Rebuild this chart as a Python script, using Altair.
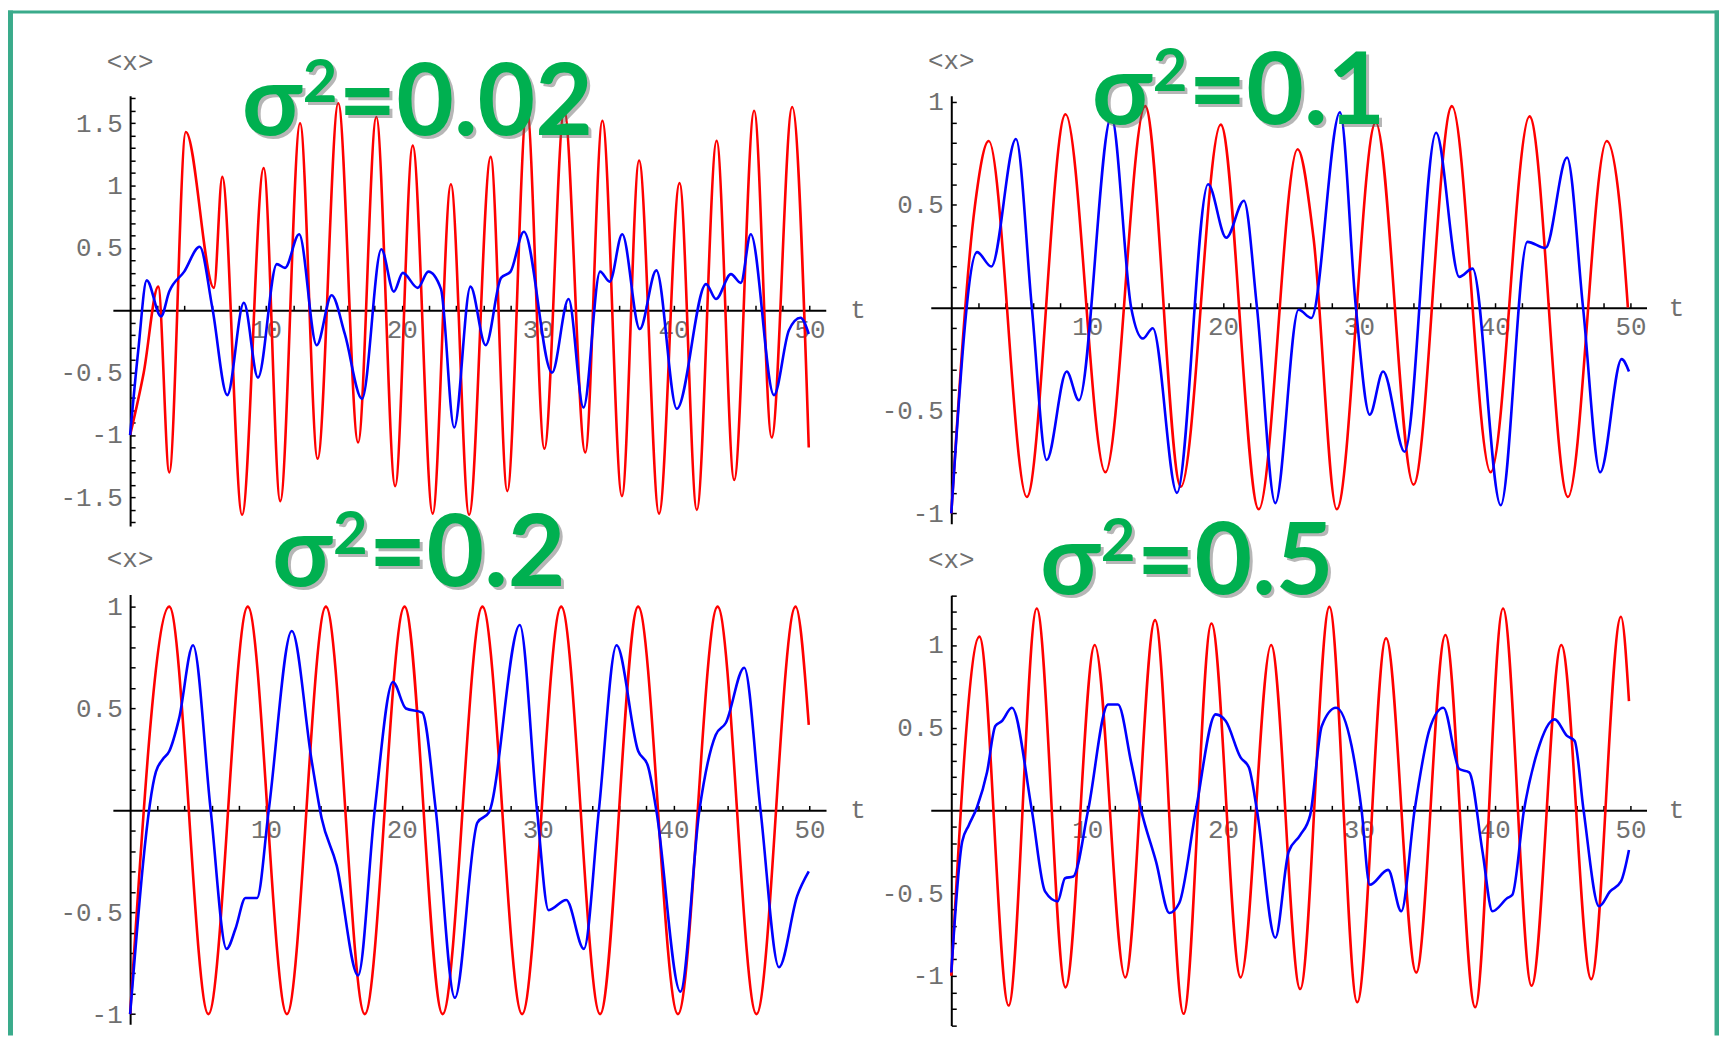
import altair as alt
import pandas as pd

W, H = 1719, 1030   # chart size (page pixels minus the 8px margin)
M = 8

# ---------------- values: (t, <x>) ----------------
tl_red = [(0, -1.0), (1.0, -0.5), (2.07, 0.19), (2.88, -1.30), (4.10, 1.43), (6.17, 0.18), (6.78, 1.07),
          (8.24, -1.64), (9.83, 1.14), (11.05, -1.53), (12.51, 1.50), (13.80, -1.19), (15.32, 1.66),
          (16.78, -1.06), (18.12, 1.55), (19.51, -1.41), (20.80, 1.32), (22.27, -1.63), (23.61, 1.01),
          (24.95, -1.64), (26.54, 1.23), (27.76, -1.45), (29.2, 1.62), (30.49, -1.11), (31.95, 1.60),
          (33.5, -1.14), (34.76, 1.52), (36.2, -1.49), (37.46, 1.20), (38.93, -1.63), (40.44, 1.02),
          (41.71, -1.60), (43.17, 1.36), (44.46, -1.36), (45.93, 1.60), (47.22, -1.02), (48.73, 1.63),
          (49.95, -1.10)]
tl_blue = [(0, -1.0), (0.6, -0.32), (1.22, 0.24), (2.27, -0.05), (2.88, 0.15), (3.98, 0.31), (5.12, 0.51),
           (6.05, 0.02), (7.15, -0.68), (8.37, 0.06), (9.41, -0.54), (10.8, 0.37), (11.4, 0.34),
           (12.44, 0.61), (13.73, -0.28), (14.83, 0.12), (15.8, -0.19), (17.07, -0.71), (18.49, 0.49),
           (19.41, 0.15), (20.07, 0.30), (21.17, 0.18), (21.95, 0.31), (22.88, 0.17), (23.85, -0.94),
           (25.05, 0.19), (26.17, -0.28), (27.3, 0.26), (28.0, 0.31), (28.98, 0.63), (31.05, -0.50),
           (32.27, 0.09), (33.37, -0.78), (34.59, 0.31), (35.3, 0.23), (36.22, 0.61), (37.51, -0.15),
           (38.73, 0.32), (40.24, -0.79), (42.39, 0.21), (43.12, 0.09), (44.22, 0.29), (44.95, 0.22),
           (45.68, 0.61), (47.39, -0.68), (48.49, -0.16), (49.34, -0.06), (49.95, -0.19)]

tr_red = [(0, -1.0), (1.73, 0.49), (2.76, 0.81), (5.56, -0.92), (8.41, 0.94), (11.34, -0.80), (14.27, 0.98),
          (16.9, -0.87), (19.83, 0.89), (22.63, -0.98), (25.49, 0.77), (26.66, 0.34), (28.37, -0.98),
          (31.24, 0.90), (34.02, -0.86), (36.85, 0.98), (39.7, -0.80), (42.56, 0.93), (45.39, -0.92),
          (48.24, 0.81), (49.2, 0.50), (49.8, 0.0)]
tr_blue = [(0, -1.0), (1.9, 0.27), (2.95, 0.20), (4.76, 0.82), (5.93, 0.0), (7.02, -0.74), (8.49, -0.31),
           (9.39, -0.45), (11.78, 0.93), (13.24, 0.0), (14.1, -0.15), (14.83, -0.10), (16.61, -0.90),
           (18.9, 0.60), (20.24, 0.34), (21.54, 0.52), (22.5, 0.0), (23.85, -0.95), (25.56, -0.01),
           (26.5, -0.05), (28.61, 0.95), (29.78, 0.0), (30.8, -0.52), (31.78, -0.31), (33.37, -0.70),
           (35.68, 0.85), (37.39, 0.15), (38.37, 0.19), (40.44, -0.96), (42.4, 0.32), (43.73, 0.29),
           (45.32, 0.73), (46.5, 0.0), (47.76, -0.80), (49.34, -0.25), (49.88, -0.31)]

bl_red = [(0, -1.0), (2.88, 1.0), (5.76, -1.0), (8.66, 1.0), (11.54, -1.0), (14.41, 1.0), (17.27, -1.0),
          (20.2, 1.0), (23.0, -1.0), (25.93, 1.0), (28.85, -1.0), (31.73, 1.0), (34.59, -1.0), (37.39, 1.0),
          (40.32, -1.0), (43.24, 1.0), (46.1, -1.0), (48.98, 1.0), (49.95, 0.42)]
bl_blue = [(0, -1.0), (1.9, 0.19), (2.39, 0.25), (2.88, 0.29), (3.6, 0.45), (4.63, 0.81), (5.93, 0.0),
           (7.1, -0.68), (7.76, -0.58), (8.49, -0.43), (9.34, -0.43), (10.2, 0.0), (11.9, 0.88),
           (13.37, 0.24), (14.1, -0.04), (15.2, -0.27), (16.78, -0.81), (18.0, 0.0), (19.34, 0.63),
           (20.3, 0.50), (21.5, 0.48), (22.5, 0.0), (23.9, -0.92), (25.56, -0.06), (26.41, -0.01),
           (28.68, 0.91), (29.95, 0.0), (30.8, -0.49), (32.1, -0.44), (33.4, -0.68), (34.5, 0.0),
           (35.8, 0.81), (37.4, 0.29), (38.1, 0.22), (38.73, 0.0), (40.5, -0.89), (41.9, 0.0), (43.1, 0.37),
           (43.85, 0.43), (45.2, 0.70), (46.4, 0.0), (47.76, -0.77), (49.1, -0.42), (49.95, -0.30)]

br_red = [(0, -1.0), (2.07, 1.05), (4.22, -1.18), (6.29, 1.22), (8.41, -1.07), (10.56, 1.0), (12.8, -1.01),
          (15.0, 1.15), (17.1, -1.23), (19.15, 1.13), (21.3, -1.01), (23.54, 1.0), (25.68, -1.08),
          (27.83, 1.23), (29.88, -1.16), (32.0, 1.04), (34.22, -0.98), (36.37, 1.06), (38.56, -1.19),
          (40.61, 1.22), (42.71, -1.06), (44.9, 1.0), (47.1, -1.02), (49.29, 1.17), (49.88, 0.66)]
br_blue = [(0, -0.98), (0.8, -0.19), (1.29, -0.09), (1.9, 0.02), (2.63, 0.23), (3.24, 0.51), (3.73, 0.54),
           (4.46, 0.62), (5.93, 0.0), (6.9, -0.49), (7.83, -0.55), (8.37, -0.41), (8.98, -0.40),
           (10.07, 0.0), (11.54, 0.64), (12.27, 0.64), (13.24, 0.29), (13.98, 0.0), (15.07, -0.31),
           (16.05, -0.62), (16.78, -0.56), (18.0, 0.0), (19.46, 0.58), (20.2, 0.54), (21.29, 0.32),
           (21.9, 0.26), (22.5, 0.0), (23.85, -0.77), (24.83, -0.25), (25.68, -0.15), (26.41, -0.03),
           (27.27, 0.51), (28.32, 0.62), (29.46, 0.39), (30.2, 0.0), (30.8, -0.45), (32.15, -0.36),
           (33.12, -0.61), (34.1, 0.0), (35.2, 0.49), (36.22, 0.62), (37.39, 0.25), (38.12, 0.23),
           (39.1, -0.25), (39.83, -0.61), (40.93, -0.53), (41.3, -0.51), (42.15, 0.0), (43.12, 0.35),
           (44.41, 0.55), (45.32, 0.45), (45.88, 0.42), (46.54, 0.0), (47.68, -0.58), (48.49, -0.49),
           (49.29, -0.43), (49.88, -0.24)]

# tick values and labels
x_ticks = [2, 4, 6, 8, 10, 12, 14, 16, 18, 20, 22, 24, 26, 28, 30, 32, 34, 36, 38, 40, 42, 44, 46, 48, 50]
tl_y_ticks = [round(k / 10, 1) for k in range(-17, 18) if k != 0]
tr_y_ticks = [round(k / 10, 1) for k in range(-10, 11) if k != 0]
bl_y_ticks = tr_y_ticks
br_y_ticks = [round(k / 10, 1) for k in range(-13, 14) if k != 0]
title_base = "σ"
title_sup = "2"
title_rest = ["=0.02", "=0.1", "=0.2", "=0.5"]
y_title = "<x>"
x_title = "t"

# ---------------- layout (page pixels) ----------------
panels = [
    dict(red=tl_red, blue=tl_blue, yt=tl_y_ticks, x0=130.7, y0=309.3, sx=13.65, sy=125.3,
         tdom=[-1.27, 51.2], vdom=[-1.73, 1.72], rest=title_rest[0], title_at=(8.23, 1.405),
         ylab_at=(0, 1.99), xlab_at=(53.0, 0)),
    dict(red=tr_red, blue=tr_blue, yt=tr_y_ticks, x0=955.7, y0=306.7, sx=13.65, sy=206.7,
         tdom=[-1.51, 51.17], vdom=[-1.05, 1.03], rest=title_rest[1], title_at=(10.35, 0.895),
         ylab_at=(0, 1.20), xlab_at=(52.8, 0)),
    dict(red=bl_red, blue=bl_blue, yt=bl_y_ticks, x0=130.7, y0=811.7, sx=13.65, sy=204.7,
         tdom=[-1.27, 51.22], vdom=[-1.05, 1.06], rest=title_rest[2], title_at=(10.46, 1.099),
         ylab_at=(0, 1.233), xlab_at=(53.0, 0)),
    dict(red=br_red, blue=br_blue, yt=br_y_ticks, x0=955.7, y0=811.7, sx=13.65, sy=166.2,
         tdom=[-1.51, 51.17], vdom=[-1.30, 1.30], rest=title_rest[3], title_at=(6.54, 1.31),
         ylab_at=(0, 1.514), xlab_at=(52.8, 0)),
]

MONO = "Liberation Mono, Courier New, monospace"
SANS = "Lato, Open Sans, sans-serif"
LABEL_COLOR = "#707070"
FS = 26
TICK = 5
LW = 2.6

layers = []

# slide frame
one = pd.DataFrame({"a": [0]})
TEAL = "#3aab8b"
layers.append(alt.Chart(one).mark_rect(color=TEAL).encode(
    x=alt.value(0), x2=alt.value(5), y=alt.value(0), y2=alt.value(H)))
layers.append(alt.Chart(one).mark_rect(color=TEAL).encode(
    x=alt.value(W - 4.5), x2=alt.value(W), y=alt.value(0), y2=alt.value(H)))
layers.append(alt.Chart(one).mark_rect(color=TEAL).encode(
    x=alt.value(0), x2=alt.value(W), y=alt.value(0), y2=alt.value(3)))

for p in panels:
    xr = [p["x0"] + p["sx"] * p["tdom"][0] - M, p["x0"] + p["sx"] * p["tdom"][1] - M]
    yr = [p["y0"] - p["sy"] * p["vdom"][0] - M, p["y0"] - p["sy"] * p["vdom"][1] - M]

    def xs():
        return alt.Scale(domain=p["tdom"], range=xr, nice=False, zero=False)

    def ys():
        return alt.Scale(domain=p["vdom"], range=yr, nice=False, zero=False)

    def enc(ch):
        return ch.encode(x=alt.X("t:Q", scale=xs(), axis=None),
                         y=alt.Y("v:Q", scale=ys(), axis=None), text="s:N")

    xaxis = alt.Axis(orient="top", offset=-(p["y0"] - M), values=x_ticks, title=None, grid=False,
                     tickSize=TICK, tickColor="black", tickWidth=1.5,
                     domainColor="black", domainWidth=2,
                     labelExpr="datum.value % 10 === 0 ? '' + datum.value : ''",
                     labelPadding=-(19 + TICK), labelBaseline="middle", labelAlign="center",
                     labelFont=MONO, labelFontSize=FS, labelColor=LABEL_COLOR,
                     labelFlush=False, labelOverlap=False)
    yaxis = alt.Axis(orient="right", offset=(p["x0"] - M) - W, values=p["yt"], title=None, grid=False,
                     tickSize=TICK, tickColor="black", tickWidth=1.5,
                     domainColor="black", domainWidth=2,
                     labelExpr="abs(datum.value) > 0.001 && abs(datum.value * 2 - round(datum.value * 2)) < 0.001 ? '' + datum.value : ''",
                     labelPadding=-(8 + TICK), labelBaseline="middle", labelAlign="right",
                     labelFont=MONO, labelFontSize=FS, labelColor=LABEL_COLOR,
                     labelFlush=False, labelOverlap=False)

    red_df = pd.DataFrame(p["red"], columns=["t", "v"])
    blue_df = pd.DataFrame(p["blue"], columns=["t", "v"])
    layers.append(alt.Chart(red_df).mark_line(color="#ff0000", strokeWidth=LW, interpolate="monotone").encode(
        x=alt.X("t:Q", scale=xs(), axis=xaxis),
        y=alt.Y("v:Q", scale=ys(), axis=yaxis)))
    layers.append(alt.Chart(blue_df).mark_line(color="#0000ff", strokeWidth=LW, interpolate="monotone").encode(
        x=alt.X("t:Q", scale=xs(), axis=None),
        y=alt.Y("v:Q", scale=ys(), axis=None)))

    # axis titles
    ylab_df = pd.DataFrame({"t": [p["ylab_at"][0]], "v": [p["ylab_at"][1]], "s": [y_title]})
    layers.append(enc(alt.Chart(ylab_df).mark_text(font=MONO, fontSize=FS, color=LABEL_COLOR,
                                                    align="center", baseline="middle")))
    xlab_df = pd.DataFrame({"t": [p["xlab_at"][0]], "v": [p["xlab_at"][1]], "s": [x_title]})
    layers.append(enc(alt.Chart(xlab_df).mark_text(font=MONO, fontSize=FS, color=LABEL_COLOR,
                                                    align="left", baseline="middle")))

    # big green sigma^2 labels with a soft shadow
    ta, tv = p["title_at"]
    parts = [(title_base, 98, 0, 0), (title_sup, 60, 61, -33), (p["rest"], 100, 97, 0)]
    for shadow in (True, False):
        for s, fs, dx, dy in parts:
            df = pd.DataFrame({"t": [ta], "v": [tv], "s": [s]})
            if shadow:
                mk = alt.Chart(df).mark_text(font=SANS, fontSize=fs, fontWeight="bold", color="#606060",
                                             opacity=0.45, align="left", baseline="alphabetic",
                                             dx=dx + 3, dy=dy + 3)
            else:
                mk = alt.Chart(df).mark_text(font=SANS, fontSize=fs, fontWeight="bold", color="#00b050",
                                             align="left", baseline="alphabetic", dx=dx, dy=dy)
            layers.append(enc(mk))

chart = alt.layer(*layers).resolve_scale(
    x="independent", y="independent"
).resolve_axis(
    x="independent", y="independent"
).properties(
    width=W, height=H, padding=0, autosize=alt.AutoSizeParams(type="none")
).configure_view(strokeWidth=0)

chart.save("out.html", embed_options={"renderer": "svg", "actions": False})
